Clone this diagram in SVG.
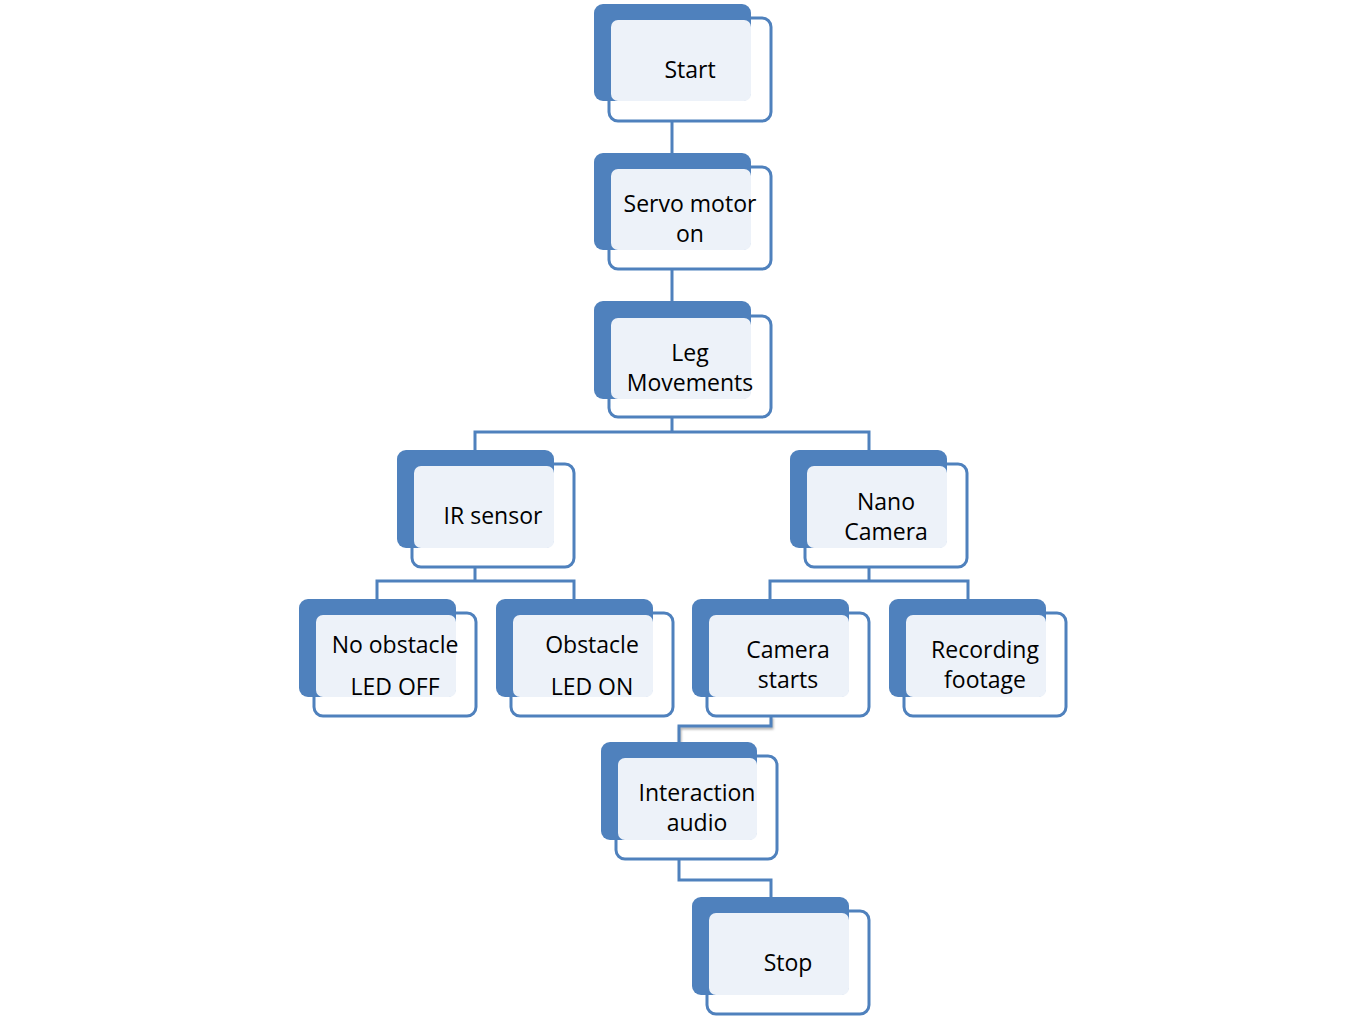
<svg xmlns="http://www.w3.org/2000/svg" width="1363" height="1016" viewBox="0 0 1363 1016">
<style>
.front{fill:#ffffff;stroke:#4F81BD;stroke-width:3}
.back{fill:#4F81BD}
.in{fill:#EDF2F9}
.t{font-family:"Open Sans","Liberation Sans",sans-serif;font-size:23px;fill:#000;text-anchor:middle;dominant-baseline:central}
.c{fill:none;stroke:#4F81BD;stroke-width:3}
</style>
<rect width="1363" height="1016" fill="#ffffff"/>
<g id="connectors">
<path class="c" d="M672 121V153"/>
<path class="c" d="M672 269V301"/>
<path class="c" d="M672 417V432M475 450V432H869V450"/>
<path class="c" d="M475 567V581M377 599V581H574V599"/>
<path class="c" d="M869 567V581M770 599V581H968V599"/>
<path class="c" d="M771 716V726H679V742" style="filter:drop-shadow(1px 2px 1px rgba(0,0,0,0.3))"/>
<path class="c" d="M679 859V880H771V897"/>
</g>
<g id="start">
<rect class="front" x="609" y="18" width="162" height="103" rx="9"/>
<rect class="back" x="594" y="4" width="157" height="97" rx="9"/>
<rect class="in" x="611" y="20" width="140" height="81" rx="7"/>
<text class="t" x="690" y="69">Start</text>
</g>
<g id="servo">
<rect class="front" x="609" y="167" width="162" height="102" rx="9"/>
<rect class="back" x="594" y="153" width="157" height="97" rx="9"/>
<rect class="in" x="611" y="169" width="140" height="81" rx="7"/>
<text class="t" x="690" y="203">Servo motor</text>
<text class="t" x="690" y="233">on</text>
</g>
<g id="leg">
<rect class="front" x="609" y="316" width="162" height="101" rx="9"/>
<rect class="back" x="594" y="301" width="157" height="98" rx="9"/>
<rect class="in" x="611" y="318" width="140" height="81" rx="7"/>
<text class="t" x="690" y="352">Leg</text>
<text class="t" x="690" y="382">Movements</text>
</g>
<g id="ir">
<rect class="front" x="412" y="464" width="162" height="103" rx="9"/>
<rect class="back" x="397" y="450" width="157" height="98" rx="9"/>
<rect class="in" x="414" y="466" width="140" height="82" rx="7"/>
<text class="t" x="493" y="515">IR sensor</text>
</g>
<g id="nano">
<rect class="front" x="805" y="464" width="162" height="103" rx="9"/>
<rect class="back" x="790" y="450" width="157" height="98" rx="9"/>
<rect class="in" x="807" y="466" width="140" height="82" rx="7"/>
<text class="t" x="886" y="501">Nano</text>
<text class="t" x="886" y="531">Camera</text>
</g>
<g id="noobstacle">
<rect class="front" x="314" y="613" width="162" height="103" rx="9"/>
<rect class="back" x="299" y="599" width="157" height="98" rx="9"/>
<rect class="in" x="316" y="615" width="140" height="82" rx="7"/>
<text class="t" x="395" y="644">No obstacle</text>
<text class="t" x="395" y="686">LED OFF</text>
</g>
<g id="obstacle">
<rect class="front" x="511" y="613" width="162" height="103" rx="9"/>
<rect class="back" x="496" y="599" width="157" height="98" rx="9"/>
<rect class="in" x="513" y="615" width="140" height="82" rx="7"/>
<text class="t" x="592" y="644">Obstacle</text>
<text class="t" x="592" y="686">LED ON</text>
</g>
<g id="camerastarts">
<rect class="front" x="707" y="613" width="162" height="103" rx="9"/>
<rect class="back" x="692" y="599" width="157" height="98" rx="9"/>
<rect class="in" x="709" y="615" width="140" height="82" rx="7"/>
<text class="t" x="788" y="649">Camera</text>
<text class="t" x="788" y="679">starts</text>
</g>
<g id="recording">
<rect class="front" x="904" y="613" width="162" height="103" rx="9"/>
<rect class="back" x="889" y="599" width="157" height="98" rx="9"/>
<rect class="in" x="906" y="615" width="140" height="82" rx="7"/>
<text class="t" x="985" y="649">Recording</text>
<text class="t" x="985" y="679">footage</text>
</g>
<g id="interaction">
<rect class="front" x="616" y="756" width="161" height="103" rx="9"/>
<rect class="back" x="601" y="742" width="156" height="98" rx="9"/>
<rect class="in" x="618" y="758" width="139" height="82" rx="7"/>
<text class="t" x="697" y="792">Interaction</text>
<text class="t" x="697" y="822">audio</text>
</g>
<g id="stop">
<rect class="front" x="707" y="911" width="162" height="103" rx="9"/>
<rect class="back" x="692" y="897" width="157" height="98" rx="9"/>
<rect class="in" x="709" y="913" width="140" height="82" rx="7"/>
<text class="t" x="788" y="962">Stop</text>
</g>
</svg>
